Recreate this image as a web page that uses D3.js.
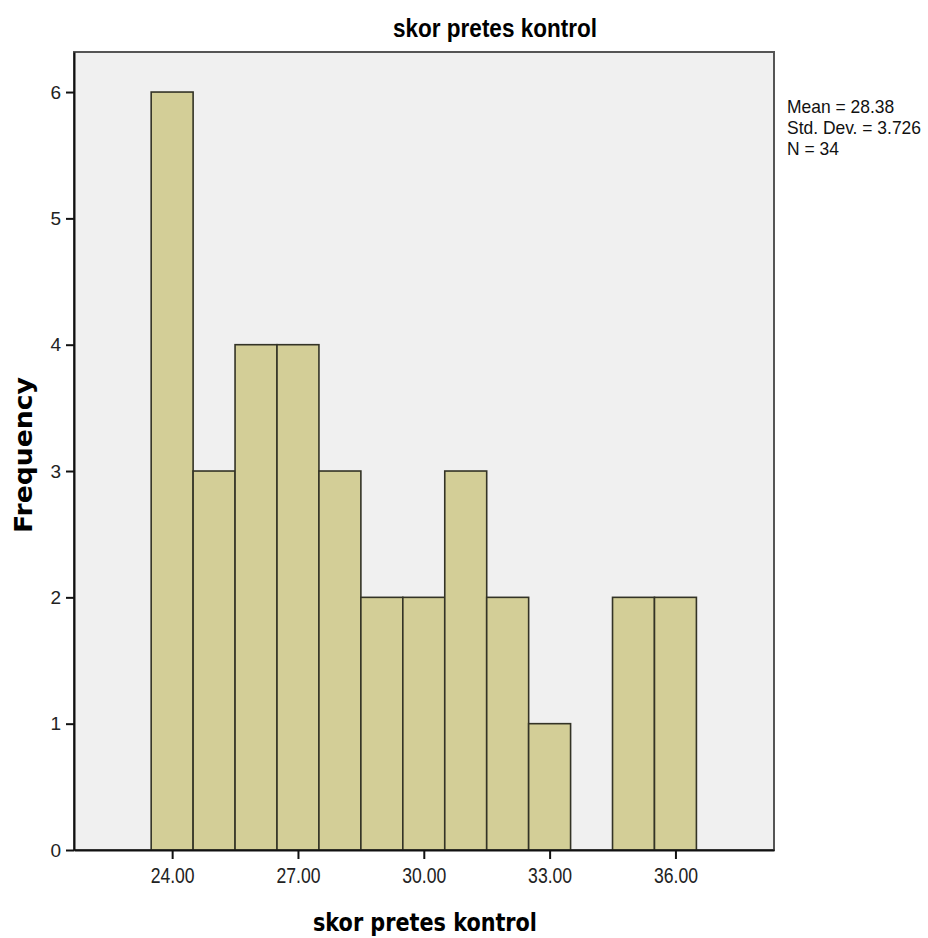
<!DOCTYPE html>
<html>
<head>
<meta charset="utf-8">
<script src="https://cdn.jsdelivr.net/npm/d3@7"></script>
<style>
  body { margin: 0; background: #fff; }
  svg { display: block; }
  .tick text { font-family: "Liberation Sans", Arial, sans-serif; fill: #222; }
</style>
</head>
<body>
<div id="chart"></div>
<script>
// histogram bins (centre value) and counts
const binCenters = [24, 25, 26, 27, 28, 29, 30, 31, 32, 33, 34, 35, 36];
const counts = [6, 3, 4, 4, 3, 2, 2, 3, 2, 1, 0, 2, 2];
const xTicks = [24, 27, 30, 33, 36];
const yTicks = [0, 1, 2, 3, 4, 5, 6];
const statsLines = ['Mean = 28.38', 'Std. Dev. = 3.726', 'N = 34'];

const width = 928;
const height = 938;
const plot = { left: 74, top: 52, right: 774, bottom: 850 };

const svg = d3.select('#chart').append('svg')
  .attr('width', width)
  .attr('height', height);

const x = d3.scaleLinear().domain([21.66, 38.35]).range([plot.left, plot.right]);
const y = d3.scaleLinear().domain([0, 6.317]).range([plot.bottom, plot.top]);

// plot background + frame
svg.append('rect')
  .attr('x', plot.left).attr('y', plot.top)
  .attr('width', plot.right - plot.left).attr('height', plot.bottom - plot.top)
  .attr('fill', '#f0f0f0')
  .attr('stroke', '#555')
  .attr('stroke-width', 2);

const bins = binCenters.map((c, i) => ({ x0: c - 0.5, x1: c + 0.5, n: counts[i] }))
  .filter((d) => d.n > 0);

svg.append('g')
  .selectAll('rect')
  .data(bins)
  .join('rect')
  .attr('x', (d) => x(d.x0))
  .attr('y', (d) => y(d.n))
  .attr('width', (d) => x(d.x1) - x(d.x0))
  .attr('height', (d) => y(0) - y(d.n))
  .attr('fill', '#d3ce97')
  .attr('stroke', '#333326')
  .attr('stroke-width', 1.6);

// axes
const yAxis = d3.axisLeft(y).tickValues(yTicks).tickSize(8).tickSizeOuter(0).tickPadding(3).tickFormat(d3.format('d'));
const gy = svg.append('g').attr('transform', `translate(${plot.left},0)`).call(yAxis);
gy.select('.domain').attr('stroke', '#111').attr('stroke-width', 2);
gy.selectAll('.tick line').attr('stroke', '#111').attr('stroke-width', 2);
gy.selectAll('.tick text').attr('font-size', 19).attr('x', -13);

const xAxis = d3.axisBottom(x).tickValues(xTicks).tickSize(9).tickSizeOuter(0).tickPadding(8).tickFormat(d3.format('.2f'));
const gx = svg.append('g').attr('transform', `translate(0,${plot.bottom})`).call(xAxis);
gx.select('.domain').attr('stroke', '#111').attr('stroke-width', 2);
gx.selectAll('.tick line').attr('stroke', '#111').attr('stroke-width', 2);
gx.selectAll('.tick text').attr('font-size', 22).attr('textLength', 44).attr('lengthAdjust', 'spacingAndGlyphs');

// title
svg.append('text')
  .attr('x', 393).attr('y', 37)
  .attr('font-family', '"Liberation Sans", Arial, sans-serif')
  .attr('font-weight', 'bold')
  .attr('font-size', 25)
  .attr('textLength', 204)
  .attr('lengthAdjust', 'spacingAndGlyphs')
  .text('skor pretes kontrol');

// x label
svg.append('text')
  .attr('x', 313).attr('y', 931)
  .attr('font-family', '"DejaVu Sans", sans-serif')
  .attr('font-weight', 'bold')
  .attr('font-size', 24)
  .attr('textLength', 224)
  .attr('lengthAdjust', 'spacingAndGlyphs')
  .text('skor pretes kontrol');

// y label
svg.append('text')
  .attr('transform', 'translate(32,533) rotate(-90)')
  .attr('font-family', '"DejaVu Sans", sans-serif')
  .attr('font-weight', 'bold')
  .attr('font-size', 24)
  .attr('textLength', 156)
  .attr('lengthAdjust', 'spacingAndGlyphs')
  .text('Frequency');

// stats
svg.append('g')
  .attr('transform', 'translate(787,0) scale(0.97,1)')
  .selectAll('text')
  .data(statsLines)
  .join('text')
  .attr('x', 0)
  .attr('y', (d, i) => 113 + i * 21)
  .attr('font-family', '"Liberation Sans", Arial, sans-serif')
  .attr('font-size', 18)
  .attr('fill', '#111')
  .text((d) => d);
</script>
</body>
</html>
